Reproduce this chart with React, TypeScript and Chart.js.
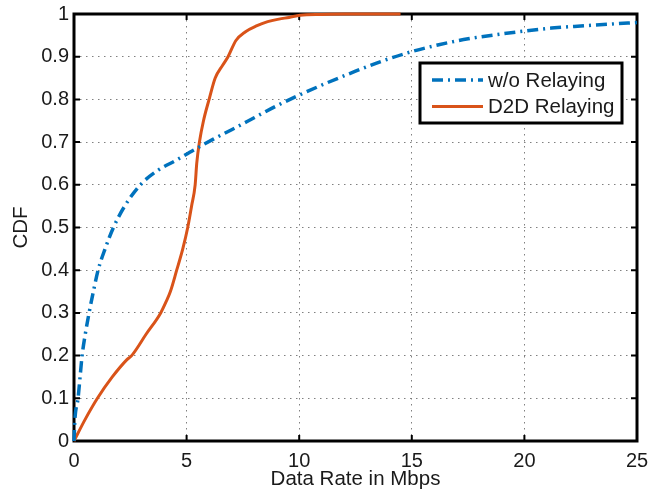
import { useEffect, useRef } from 'react';
import { Chart, registerables } from 'chart.js';

Chart.register(...registerables);

// ---- data ----
const woRelayingX = [0, 0.04, 0.18, 0.27, 0.36, 0.5, 0.67, 0.86, 1.07, 1.38, 1.75, 2.25, 2.95, 3.7, 4.55, 5.3, 6.19, 7.0, 8.0, 9.0, 10.0, 11.2, 12.5, 13.7, 15.0, 16.2, 17.5, 18.8, 20.0, 21.2, 22.5, 23.7, 25.0];
const woRelayingY = [0, 0.05, 0.1, 0.15, 0.2, 0.25, 0.3, 0.35, 0.4, 0.45, 0.5, 0.55, 0.6, 0.633, 0.658, 0.681, 0.707, 0.729, 0.757, 0.785, 0.81, 0.838, 0.866, 0.89, 0.912, 0.928, 0.942, 0.952, 0.96, 0.967, 0.972, 0.976, 0.98];

const d2dX = [0, 0.49, 1.04, 1.7, 2.34, 2.56, 3.2, 3.85, 4.08, 4.28, 4.56, 4.83, 5.05, 5.22, 5.38, 5.45, 5.57, 5.75, 6.0, 6.27, 6.6, 6.84, 7.19, 7.6, 8.1, 8.6, 9.1, 9.55, 10.04, 11.0, 12.0, 13.0, 14.5];
const d2dY = [0, 0.05, 0.1, 0.15, 0.19, 0.2, 0.25, 0.3, 0.325, 0.35, 0.4, 0.45, 0.5, 0.55, 0.6, 0.65, 0.7, 0.75, 0.8, 0.85, 0.88, 0.9, 0.938, 0.958, 0.972, 0.982, 0.988, 0.992, 0.997, 0.999, 1, 1, 1];

const seriesLabels = ['w/o Relaying', 'D2D Relaying'];
const xTickLabels = ['0', '5', '10', '15', '20', '25'];
const yTickLabels = ['0', '0.1', '0.2', '0.3', '0.4', '0.5', '0.6', '0.7', '0.8', '0.9', '1'];
const xTitle = 'Data Rate in Mbps';
const yTitle = 'CDF';

const FONT = '"Liberation Sans", Arial, Helvetica, sans-serif';
const TEXT = '#1a1a1a';

const framePlugin = {
  id: 'frameTicks',
  beforeDatasetsDraw(chart: any) {
    const { ctx, chartArea, scales } = chart;
    const { left, top, right, bottom } = chartArea;
    const xs = scales.x;
    const ys = scales.y;
    const tl = 6;
    ctx.save();
    ctx.strokeStyle = '#000';
    ctx.lineWidth = 2;
    ctx.setLineDash([]);
    ctx.beginPath();
    xs.ticks.forEach((t: any) => {
      const px = xs.getPixelForValue(t.value);
      ctx.moveTo(px, bottom);
      ctx.lineTo(px, bottom - tl);
      ctx.moveTo(px, top);
      ctx.lineTo(px, top + tl);
    });
    ys.ticks.forEach((t: any) => {
      const py = ys.getPixelForValue(t.value);
      ctx.moveTo(left, py);
      ctx.lineTo(left + tl, py);
      ctx.moveTo(right, py);
      ctx.lineTo(right - tl, py);
    });
    ctx.stroke();
    ctx.lineWidth = 3;
    ctx.strokeRect(left, top, right - left, bottom - top);
    ctx.restore();
  },
};

const legendPlugin = {
  id: 'boxLegend',
  afterDatasetsDraw(chart: any) {
    const { ctx, chartArea } = chart;
    const w = 202;
    const h = 60;
    const bx = chartArea.right - 15 - w;
    const by = chartArea.top + 49;
    ctx.save();
    ctx.fillStyle = '#fff';
    ctx.fillRect(bx, by, w, h);
    ctx.strokeStyle = '#000';
    ctx.lineWidth = 3;
    ctx.setLineDash([]);
    ctx.strokeRect(bx, by, w, h);
    const rows = [by + 17, by + 43.5];
    chart.data.datasets.forEach((ds: any, i: number) => {
      const cy = rows[i];
      ctx.save();
      ctx.strokeStyle = ds.borderColor;
      ctx.lineWidth = ds.borderWidth;
      ctx.setLineDash(ds.borderDash || []);
      ctx.beginPath();
      ctx.moveTo(bx + 12, cy);
      ctx.lineTo(bx + 63, cy);
      ctx.stroke();
      ctx.restore();
      ctx.fillStyle = TEXT;
      ctx.font = `20.5px ${FONT}`;
      ctx.textBaseline = 'middle';
      ctx.textAlign = 'left';
      ctx.fillText(ds.label, bx + 68, cy + 1);
    });
    ctx.restore();
  },
};

export default function App() {
  const ref = useRef<HTMLCanvasElement | null>(null);

  useEffect(() => {
    document.body.style.margin = '0';
    const canvas = ref.current;
    if (!canvas) return;
    const chart = new Chart(canvas, {
      type: 'line',
      data: {
        datasets: [
          {
            label: seriesLabels[0],
            data: woRelayingX.map((x, i) => ({ x, y: woRelayingY[i] })),
            borderColor: '#0072BD',
            borderWidth: 3.5,
            borderDash: [11, 5, 2, 5],
            pointRadius: 0,
            cubicInterpolationMode: 'monotone',
            fill: false,
            clip: false,
          } as any,
          {
            label: seriesLabels[1],
            data: d2dX.map((x, i) => ({ x, y: d2dY[i] })),
            borderColor: '#D95319',
            borderWidth: 3,
            pointRadius: 0,
            cubicInterpolationMode: 'monotone',
            fill: false,
            clip: false,
          } as any,
        ],
      },
      options: {
        responsive: false,
        animation: false,
        layout: { padding: { top: 14, right: 13, left: 0, bottom: 0 } },
        plugins: { legend: { display: false }, tooltip: { enabled: false } },
        scales: {
          x: {
            type: 'linear',
            min: 0,
            max: 25,
            ticks: {
              stepSize: 5,
              padding: 8,
              color: TEXT,
              font: { family: FONT, size: 20 },
              maxRotation: 0,
              callback: (_v: any, i: number) => xTickLabels[i],
            },
            grid: { color: '#808080', lineWidth: 1, drawTicks: false },
            border: { display: false, dash: [1.5, 4.5] },
            title: {
              display: true,
              text: xTitle,
              color: TEXT,
              font: { family: FONT, size: 20.5 },
              padding: { top: 0, bottom: 0 },
            },
            afterFit: (s: any) => {
              s.height = 51;
              s.paddingLeft = 0;
              s.paddingRight = 0;
            },
          },
          y: {
            type: 'linear',
            min: 0,
            max: 1,
            ticks: {
              stepSize: 0.1,
              padding: 5,
              color: TEXT,
              font: { family: FONT, size: 20 },
              callback: (_v: any, i: number) => yTickLabels[i],
            },
            grid: { color: '#808080', lineWidth: 1, drawTicks: false },
            border: { display: false, dash: [1.5, 4.5] },
            title: {
              display: true,
              text: yTitle,
              color: TEXT,
              font: { family: FONT, size: 20.5 },
              padding: { top: 9, bottom: 0 },
            },
            afterFit: (s: any) => {
              s.width = 74;
              s.paddingTop = 0;
              s.paddingBottom = 0;
            },
          },
        },
      },
      plugins: [framePlugin, legendPlugin],
    } as any);
    return () => chart.destroy();
  }, []);

  return (
    <div style={{ position: 'absolute', left: 0, top: 0, width: 650, height: 492 }}>
      <canvas ref={ref} width={650} height={492} style={{ display: 'block' }} />
    </div>
  );
}
